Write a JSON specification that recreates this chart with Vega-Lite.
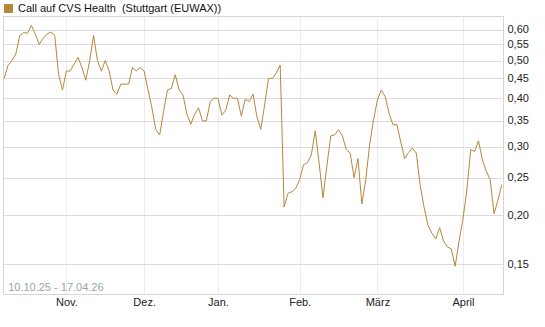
{
  "$schema": "https://vega.github.io/schema/vega-lite/v6.json",
  "width": 500,
  "height": 278,
  "autosize": {"type": "none"},
  "padding": {"left": 3, "top": 16, "right": 42, "bottom": 33},
  "background": "white",
  "config": {
    "font": "Liberation Sans",
    "view": {"stroke": "#d4d4d4", "strokeWidth": 1},
    "axis": {"labelFont": "Liberation Sans", "labelFontSize": 11, "labelColor": "#222", "domain": false, "ticks": false, "title": null}
  },
  "datasets": {
    "prices": [
    {"date": "2025-10-10", "price": 0.45},
    {"date": "2025-10-13", "price": 0.486},
    {"date": "2025-10-14", "price": 0.50},
    {"date": "2025-10-15", "price": 0.52},
    {"date": "2025-10-16", "price": 0.58},
    {"date": "2025-10-17", "price": 0.59},
    {"date": "2025-10-20", "price": 0.588},
    {"date": "2025-10-21", "price": 0.616},
    {"date": "2025-10-22", "price": 0.585},
    {"date": "2025-10-23", "price": 0.55},
    {"date": "2025-10-24", "price": 0.57},
    {"date": "2025-10-27", "price": 0.585},
    {"date": "2025-10-28", "price": 0.592},
    {"date": "2025-10-29", "price": 0.58},
    {"date": "2025-10-30", "price": 0.46},
    {"date": "2025-10-31", "price": 0.42},
    {"date": "2025-11-03", "price": 0.47},
    {"date": "2025-11-04", "price": 0.47},
    {"date": "2025-11-05", "price": 0.49},
    {"date": "2025-11-06", "price": 0.51},
    {"date": "2025-11-07", "price": 0.48},
    {"date": "2025-11-10", "price": 0.445},
    {"date": "2025-11-11", "price": 0.50},
    {"date": "2025-11-12", "price": 0.58},
    {"date": "2025-11-13", "price": 0.50},
    {"date": "2025-11-14", "price": 0.47},
    {"date": "2025-11-17", "price": 0.50},
    {"date": "2025-11-18", "price": 0.47},
    {"date": "2025-11-19", "price": 0.42},
    {"date": "2025-11-20", "price": 0.41},
    {"date": "2025-11-21", "price": 0.435},
    {"date": "2025-11-24", "price": 0.435},
    {"date": "2025-11-25", "price": 0.435},
    {"date": "2025-11-26", "price": 0.48},
    {"date": "2025-11-27", "price": 0.47},
    {"date": "2025-11-28", "price": 0.48},
    {"date": "2025-12-01", "price": 0.47},
    {"date": "2025-12-02", "price": 0.42},
    {"date": "2025-12-03", "price": 0.378},
    {"date": "2025-12-04", "price": 0.332},
    {"date": "2025-12-05", "price": 0.322},
    {"date": "2025-12-08", "price": 0.37},
    {"date": "2025-12-09", "price": 0.42},
    {"date": "2025-12-10", "price": 0.424},
    {"date": "2025-12-11", "price": 0.46},
    {"date": "2025-12-12", "price": 0.42},
    {"date": "2025-12-15", "price": 0.408},
    {"date": "2025-12-16", "price": 0.364},
    {"date": "2025-12-17", "price": 0.343},
    {"date": "2025-12-18", "price": 0.364},
    {"date": "2025-12-19", "price": 0.378},
    {"date": "2025-12-22", "price": 0.35},
    {"date": "2025-12-23", "price": 0.35},
    {"date": "2025-12-29", "price": 0.392},
    {"date": "2025-12-30", "price": 0.40},
    {"date": "2026-01-02", "price": 0.40},
    {"date": "2026-01-05", "price": 0.362},
    {"date": "2026-01-06", "price": 0.373},
    {"date": "2026-01-07", "price": 0.408},
    {"date": "2026-01-08", "price": 0.40},
    {"date": "2026-01-09", "price": 0.40},
    {"date": "2026-01-12", "price": 0.36},
    {"date": "2026-01-13", "price": 0.398},
    {"date": "2026-01-14", "price": 0.392},
    {"date": "2026-01-15", "price": 0.41},
    {"date": "2026-01-16", "price": 0.359},
    {"date": "2026-01-19", "price": 0.333},
    {"date": "2026-01-20", "price": 0.385},
    {"date": "2026-01-21", "price": 0.45},
    {"date": "2026-01-22", "price": 0.45},
    {"date": "2026-01-23", "price": 0.465},
    {"date": "2026-01-26", "price": 0.487},
    {"date": "2026-01-27", "price": 0.21},
    {"date": "2026-01-28", "price": 0.228},
    {"date": "2026-01-29", "price": 0.23},
    {"date": "2026-01-30", "price": 0.235},
    {"date": "2026-02-02", "price": 0.247},
    {"date": "2026-02-03", "price": 0.27},
    {"date": "2026-02-04", "price": 0.273},
    {"date": "2026-02-05", "price": 0.286},
    {"date": "2026-02-06", "price": 0.33},
    {"date": "2026-02-09", "price": 0.273},
    {"date": "2026-02-10", "price": 0.222},
    {"date": "2026-02-11", "price": 0.268},
    {"date": "2026-02-12", "price": 0.32},
    {"date": "2026-02-13", "price": 0.322},
    {"date": "2026-02-16", "price": 0.332},
    {"date": "2026-02-17", "price": 0.32},
    {"date": "2026-02-18", "price": 0.295},
    {"date": "2026-02-19", "price": 0.289},
    {"date": "2026-02-20", "price": 0.25},
    {"date": "2026-02-23", "price": 0.28},
    {"date": "2026-02-24", "price": 0.214},
    {"date": "2026-02-25", "price": 0.247},
    {"date": "2026-02-26", "price": 0.304},
    {"date": "2026-02-27", "price": 0.352},
    {"date": "2026-03-02", "price": 0.396},
    {"date": "2026-03-03", "price": 0.42},
    {"date": "2026-03-04", "price": 0.404},
    {"date": "2026-03-05", "price": 0.366},
    {"date": "2026-03-06", "price": 0.342},
    {"date": "2026-03-09", "price": 0.342},
    {"date": "2026-03-10", "price": 0.309},
    {"date": "2026-03-11", "price": 0.28},
    {"date": "2026-03-12", "price": 0.29},
    {"date": "2026-03-13", "price": 0.298},
    {"date": "2026-03-16", "price": 0.289},
    {"date": "2026-03-17", "price": 0.239},
    {"date": "2026-03-18", "price": 0.21},
    {"date": "2026-03-19", "price": 0.189},
    {"date": "2026-03-20", "price": 0.18},
    {"date": "2026-03-23", "price": 0.174},
    {"date": "2026-03-24", "price": 0.186},
    {"date": "2026-03-25", "price": 0.172},
    {"date": "2026-03-26", "price": 0.166},
    {"date": "2026-03-27", "price": 0.164},
    {"date": "2026-03-30", "price": 0.148},
    {"date": "2026-03-31", "price": 0.172},
    {"date": "2026-04-01", "price": 0.196},
    {"date": "2026-04-02", "price": 0.232},
    {"date": "2026-04-07", "price": 0.295},
    {"date": "2026-04-08", "price": 0.292},
    {"date": "2026-04-09", "price": 0.311},
    {"date": "2026-04-10", "price": 0.278},
    {"date": "2026-04-13", "price": 0.26},
    {"date": "2026-04-14", "price": 0.247},
    {"date": "2026-04-15", "price": 0.202},
    {"date": "2026-04-16", "price": 0.219},
    {"date": "2026-04-17", "price": 0.24}
    ],
    "range": [{"date": "2025-10-10", "price": 0.13, "label": "10.10.25 - 17.04.26"}]
  },
  "data": {"name": "prices"},
  "encoding": {
    "x": {
      "field": "date", "type": "ordinal", "sort": null,
      "scale": {"type": "point", "padding": 0.3},
      "axis": {
        "values": ["2025-11-03", "2025-12-01", "2026-01-02", "2026-02-02", "2026-03-02", "2026-04-01"],
        "labelExpr": "datum.value == '2025-11-03' ? 'Nov.' : datum.value == '2025-12-01' ? 'Dez.' : datum.value == '2026-01-02' ? 'Jan.' : datum.value == '2026-02-02' ? 'Feb.' : datum.value == '2026-03-02' ? 'März' : 'April'",
        "labelAngle": 0,
        "labelPadding": 2,
        "grid": true,
        "gridColor": "#ececec",
        "gridWidth": 1
      }
    },
    "y": {
      "field": "price", "type": "quantitative",
      "scale": {"type": "log", "domain": [0.1256, 0.651], "nice": false, "zero": false},
      "axis": {
        "orient": "right",
        "values": [0.15, 0.2, 0.25, 0.3, 0.35, 0.4, 0.45, 0.5, 0.55, 0.6],
        "labelExpr": "replace(format(datum.value, '.2f'), '.', ',')",
        "labelPadding": 4,
        "grid": true,
        "gridColor": "#dcdcdc",
        "gridWidth": 1
      }
    }
  },
  "layer": [
    {
      "mark": {"type": "line", "strokeWidth": 1, "interpolate": "linear"},
      "encoding": {
        "color": {
          "datum": "Call auf CVS Health \u00a0(Stuttgart (EUWAX))",
          "scale": {"range": ["#b8863b"]},
          "legend": {
            "orient": "none", "legendX": 0, "legendY": -13,
            "title": null,
            "symbolType": "square", "symbolSize": 64,
            "labelFont": "Liberation Sans", "labelFontSize": 11, "labelColor": "#111",
            "labelOffset": 4, "labelLimit": 0,
            "encode": {"symbols": {"update": {"fill": {"value": "#b8863b"}, "stroke": {"value": "#5a4020"}, "strokeWidth": {"value": 1}}}}
          }
        }
      }
    },
    {
      "data": {"name": "range"},
      "mark": {"type": "text", "align": "left", "baseline": "middle", "dx": 4, "fontSize": 11, "color": "#9aa2ad", "font": "Liberation Sans"},
      "encoding": {
        "text": {"field": "label"}
      }
    }
  ]
}
